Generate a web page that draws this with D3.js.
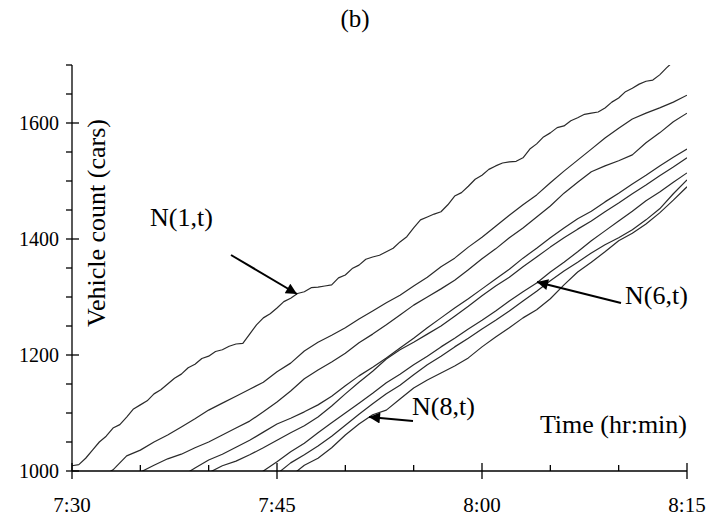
<!DOCTYPE html>
<html>
<head>
<meta charset="utf-8">
<script src="https://cdn.jsdelivr.net/npm/d3@7"></script>
<style>
  html, body { margin: 0; padding: 0; background: #fff; }
  svg { display: block; font-family: "Liberation Serif", "Times New Roman", serif; }
</style>
</head>
<body>
<svg id="chart" width="710" height="521"></svg>
<script>
// ---- data (cumulative vehicle counts, minutes after 7:30) ----
const seriesNames = ["N(1,t)", "N(2,t)", "N(3,t)", "N(4,t)", "N(5,t)", "N(6,t)", "N(7,t)", "N(8,t)"];
const startMinute = [0, 2, 5, 8, 10, 13, 15, 16];
const stepMinutes = [0.5, 1, 1, 1, 1, 1, 1, 1];
const N1 = [1009,1011,1022,1036,1050,1060,1074,1080,1093,1107,1114,1121,1133,1140,1150,1160,1167,1178,1184,1194,1198,1206,1209,1215,1219,1220,1236,1252,1264,1271,1281,1292,1298,1306,1309,1316,1317,1319,1321,1333,1338,1349,1355,1365,1369,1372,1378,1384,1395,1404,1419,1433,1438,1443,1447,1459,1474,1480,1491,1503,1510,1520,1526,1531,1533,1534,1540,1555,1564,1576,1583,1592,1595,1604,1609,1615,1617,1619,1626,1636,1643,1654,1660,1667,1672,1674,1683,1695,1706];
const N2 = [988,1002,1026,1036,1050,1062,1076,1090,1105,1117,1129,1141,1153,1171,1186,1207,1222,1234,1247,1262,1276,1290,1303,1319,1334,1352,1367,1386,1403,1422,1441,1459,1476,1497,1517,1536,1555,1574,1591,1607,1617,1626,1636,1648];
const N3 = [998,1010,1021,1029,1040,1050,1062,1074,1086,1102,1119,1138,1159,1174,1188,1203,1221,1236,1252,1269,1286,1300,1314,1329,1347,1366,1383,1402,1419,1438,1457,1479,1498,1516,1526,1535,1545,1566,1583,1602,1617];
const N4 = [991,1005,1019,1029,1041,1053,1067,1081,1091,1102,1114,1129,1147,1164,1179,1195,1212,1229,1247,1264,1281,1297,1314,1331,1348,1367,1384,1402,1419,1435,1448,1464,1479,1495,1510,1526,1541,1555];
const N5 = [997,1009,1017,1028,1040,1053,1066,1078,1093,1112,1133,1153,1172,1193,1209,1222,1236,1250,1267,1284,1302,1319,1334,1352,1369,1386,1402,1417,1431,1447,1462,1478,1493,1509,1524,1540];
const N6 = [984,1000,1016,1033,1048,1066,1083,1100,1117,1134,1152,1167,1183,1198,1214,1229,1245,1260,1276,1293,1309,1324,1343,1360,1378,1397,1414,1431,1448,1466,1481,1498,1514];
const N7 = [995,1014,1028,1043,1060,1079,1098,1116,1133,1148,1166,1183,1198,1214,1229,1245,1260,1276,1293,1310,1328,1345,1360,1376,1390,1402,1416,1433,1452,1478,1502];
const N8 = [991,1010,1022,1040,1062,1081,1097,1105,1124,1143,1157,1169,1181,1195,1214,1231,1247,1264,1278,1297,1321,1343,1360,1378,1397,1410,1426,1445,1467,1490];
const allSeries = [N1, N2, N3, N4, N5, N6, N7, N8];

const xTickMinutes = [0, 15, 30, 45];
const xTickLabels = ["7:30", "7:45", "8:00", "8:15"];
const xMinorMinutes = [5, 10, 20, 25, 35, 40];
const yTickValues = [1000, 1200, 1400, 1600];
const yMinorValues = [1050, 1100, 1150, 1250, 1300, 1350, 1450, 1500, 1550, 1650, 1700];

// ---- layout ----
const svg = d3.select("#chart");
const x = d3.scaleLinear().domain([0, 45]).range([72, 687]);
const y = d3.scaleLinear().domain([1000, 1700]).range([471, 65]);

const defs = svg.append("defs");
defs.append("clipPath").attr("id", "plot")
  .append("rect").attr("x", x(0)).attr("y", y(1700)).attr("width", x(45) - x(0)).attr("height", y(1000) - y(1700));
defs.append("marker")
  .attr("id", "arrow").attr("viewBox", "0 0 10 10").attr("refX", 10).attr("refY", 5)
  .attr("markerWidth", 14).attr("markerHeight", 11).attr("markerUnits", "userSpaceOnUse")
  .attr("orient", "auto")
  .append("path").attr("d", "M0,0 L10,5 L0,10 Z").attr("fill", "#000");

// ---- curves ----
const line = d3.line().x(d => x(d[0])).y(d => y(d[1]));
const g = svg.append("g").attr("clip-path", "url(#plot)");
g.selectAll("path.curve")
  .data(allSeries.map((s, i) => s.map((v, k) => [startMinute[i] + k * stepMinutes[i], v])))
  .join("path")
  .attr("class", "curve")
  .attr("d", line)
  .attr("fill", "none")
  .attr("stroke", "#2a2a2a")
  .attr("stroke-width", 1.2)
  .attr("stroke-linejoin", "round");

// ---- axes ----
const ax = svg.append("g").attr("stroke", "#000").attr("stroke-width", 1.3);
ax.append("line").attr("x1", x(0)).attr("x2", x(45)).attr("y1", y(1000)).attr("y2", y(1000));
ax.append("line").attr("x1", x(0)).attr("x2", x(0)).attr("y1", y(1700)).attr("y2", y(1000));
ax.selectAll("line.xmaj").data(xTickMinutes).join("line")
  .attr("x1", d => x(d)).attr("x2", d => x(d)).attr("y1", y(1000) - 8).attr("y2", y(1000) + 8);
ax.selectAll("line.xmin").data(xMinorMinutes).join("line")
  .attr("x1", d => x(d)).attr("x2", d => x(d)).attr("y1", y(1000) - 6).attr("y2", y(1000));
ax.selectAll("line.ymaj").data(yTickValues).join("line")
  .attr("x1", x(0) - 6).attr("x2", x(0) + 7).attr("y1", d => y(d)).attr("y2", d => y(d));
ax.selectAll("line.ymin").data(yMinorValues).join("line")
  .attr("x1", x(0) - 6).attr("x2", x(0)).attr("y1", d => y(d)).attr("y2", d => y(d));

svg.selectAll("text.xl").data(xTickMinutes).join("text")
  .attr("x", d => x(d)).attr("y", 512).attr("text-anchor", "middle")
  .attr("font-size", 21).text((d, i) => xTickLabels[i]);
svg.selectAll("text.yl").data(yTickValues).join("text")
  .attr("x", 59).attr("y", d => y(d) + 7).attr("text-anchor", "end")
  .attr("font-size", 20).text(d => d);

// ---- titles ----
svg.append("text").attr("x", 355).attr("y", 27).attr("text-anchor", "middle").attr("font-size", 25).text("(b)");
svg.append("text").attr("transform", "translate(105,223) rotate(-90)").attr("text-anchor", "middle")
  .attr("font-size", 26).text("Vehicle count (cars)");
svg.append("text").attr("x", 687).attr("y", 433).attr("text-anchor", "end").attr("font-size", 26).text("Time (hr:min)");

// ---- annotations ----
const ann = [
  { label: seriesNames[0], tx: 150, ty: 226, x1: 231, y1: 255, x2: 297, y2: 294 },
  { label: seriesNames[5], tx: 625, ty: 304, x1: 621, y1: 303, x2: 537, y2: 282 },
  { label: seriesNames[7], tx: 412, ty: 415, x1: 413, y1: 421, x2: 369, y2: 417 }
];
svg.selectAll("text.ann").data(ann).join("text")
  .attr("x", d => d.tx).attr("y", d => d.ty).attr("text-anchor", "start")
  .attr("font-size", 26).text(d => d.label);
svg.selectAll("line.ann").data(ann).join("line")
  .attr("x1", d => d.x1).attr("y1", d => d.y1).attr("x2", d => d.x2).attr("y2", d => d.y2)
  .attr("stroke", "#000").attr("stroke-width", 2).attr("marker-end", "url(#arrow)");
</script>
</body>
</html>
